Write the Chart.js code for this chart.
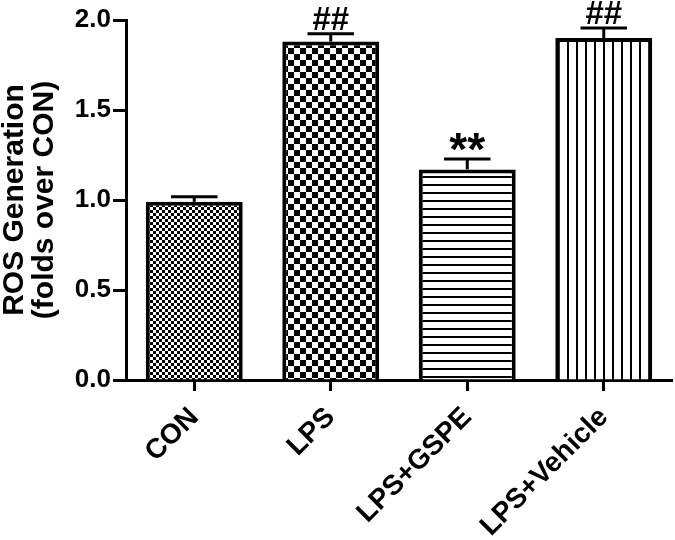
<!DOCTYPE html>
<html><head><meta charset="utf-8">
<script src="https://cdn.jsdelivr.net/npm/chart.js@4"></script>
<style>html,body{margin:0;padding:0;background:#fff}#wrap{width:675px;height:540px}</style>
</head><body><div id="wrap"><canvas id="c" width="675" height="540"></canvas></div>
<script>
const categories = ["CON", "LPS", "LPS+GSPE", "LPS+Vehicle"];
const means = [0.99, 1.88, 1.17, 1.90];
const sems = [0.028, 0.043, 0.058, 0.055];
const marks = ["", "##", "**", "##"];
const yTicks = [0, 0.5, 1.0, 1.5, 2.0];

function pat(kind){
  const c = document.createElement('canvas');
  const x = c.getContext('2d');
  if(kind==='fine'){c.width=6;c.height=6;x.fillStyle='#fff';x.fillRect(0,0,6,6);x.fillStyle='#000';x.fillRect(0,0,3,3);x.fillRect(3,3,3,3);}
  if(kind==='coarse'){c.width=12;c.height=12;x.fillStyle='#fff';x.fillRect(0,0,12,12);x.fillStyle='#000';x.fillRect(0,0,6,6);x.fillRect(6,6,6,6);}
  if(kind==='hline'){c.width=8;c.height=8;x.fillStyle='#fff';x.fillRect(0,0,8,8);x.fillStyle='#000';x.fillRect(0,0,8,2);}
  if(kind==='vline'){c.width=9;c.height=9;x.fillStyle='#fff';x.fillRect(0,0,9,9);x.fillStyle='#000';x.fillRect(0,0,2,9);}
  return x.createPattern(c,'repeat');
}
const fills = [pat('fine'), pat('coarse'), pat('hline'), pat('vline')];
const FONT = '"Liberation Sans", Arial, sans-serif';

const errPlugin = {
  id:'err',
  afterDatasetsDraw(chart){
    const ctx = chart.ctx, meta = chart.getDatasetMeta(0), y = chart.scales.y;
    ctx.save();
    ctx.strokeStyle='#000'; ctx.lineWidth=3; ctx.lineCap='butt';
    meta.data.forEach((bar,i)=>{
      const top = y.getPixelForValue(means[i]);
      const e = y.getPixelForValue(means[i]+sems[i]);
      const half = bar.width*0.24;
      ctx.beginPath(); ctx.moveTo(bar.x, top); ctx.lineTo(bar.x, e); ctx.stroke();
      ctx.beginPath(); ctx.moveTo(bar.x-half, e); ctx.lineTo(bar.x+half, e); ctx.stroke();
      if(marks[i]){
        ctx.fillStyle='#000';
        ctx.textAlign='center';
        ctx.textBaseline='alphabetic';
        if(marks[i]==='**'){
          ctx.font='bold 46px '+FONT;
          ctx.fillText(marks[i], bar.x, e+6);
        } else {
          ctx.font='bold 33px '+FONT;
          ctx.fillText(marks[i], bar.x, e-4);
        }
      }
    });
    ctx.restore();
  }
};

new Chart(document.getElementById('c'), {
  type:'bar',
  data:{labels:categories, datasets:[{data:means, backgroundColor:fills, borderColor:'#000', borderWidth:4, barPercentage:0.71, categoryPercentage:1}]},
  options:{
    responsive:false, animation:false,
    layout:{padding:{top:20,right:3,left:0,bottom:0}},
    plugins:{legend:{display:false}, tooltip:{enabled:false}},
    scales:{
      x:{
        grid:{display:true, drawOnChartArea:false, offset:false, tickLength:11, tickWidth:3, tickColor:'#000'},
        border:{display:true, color:'#000', width:3},
        ticks:{color:'#000', font:{family:FONT, size:28, weight:'bold'}, minRotation:45, maxRotation:45, padding:10},
        afterFit(s){s.height=160;}
      },
      y:{
        min:0, max:2,
        afterBuildTicks(s){s.ticks = yTicks.map(v=>({value:v}));},
        grid:{display:true, drawOnChartArea:false, tickLength:13, tickWidth:3, tickColor:'#000'},
        border:{display:true, color:'#000', width:3},
        ticks:{color:'#000', font:{family:FONT, size:26, weight:'bold'}, padding:2, callback:(v)=>Number(v).toFixed(1)},
        title:{display:true, text:['ROS Generation','(folds over CON)'], color:'#000', font:{family:FONT, size:30, weight:'bold', lineHeight:1.0}, padding:{top:0,bottom:4}},
        afterFit(s){s.width=126;}
      }
    }
  },
  plugins:[errPlugin]
});
</script></body></html>
